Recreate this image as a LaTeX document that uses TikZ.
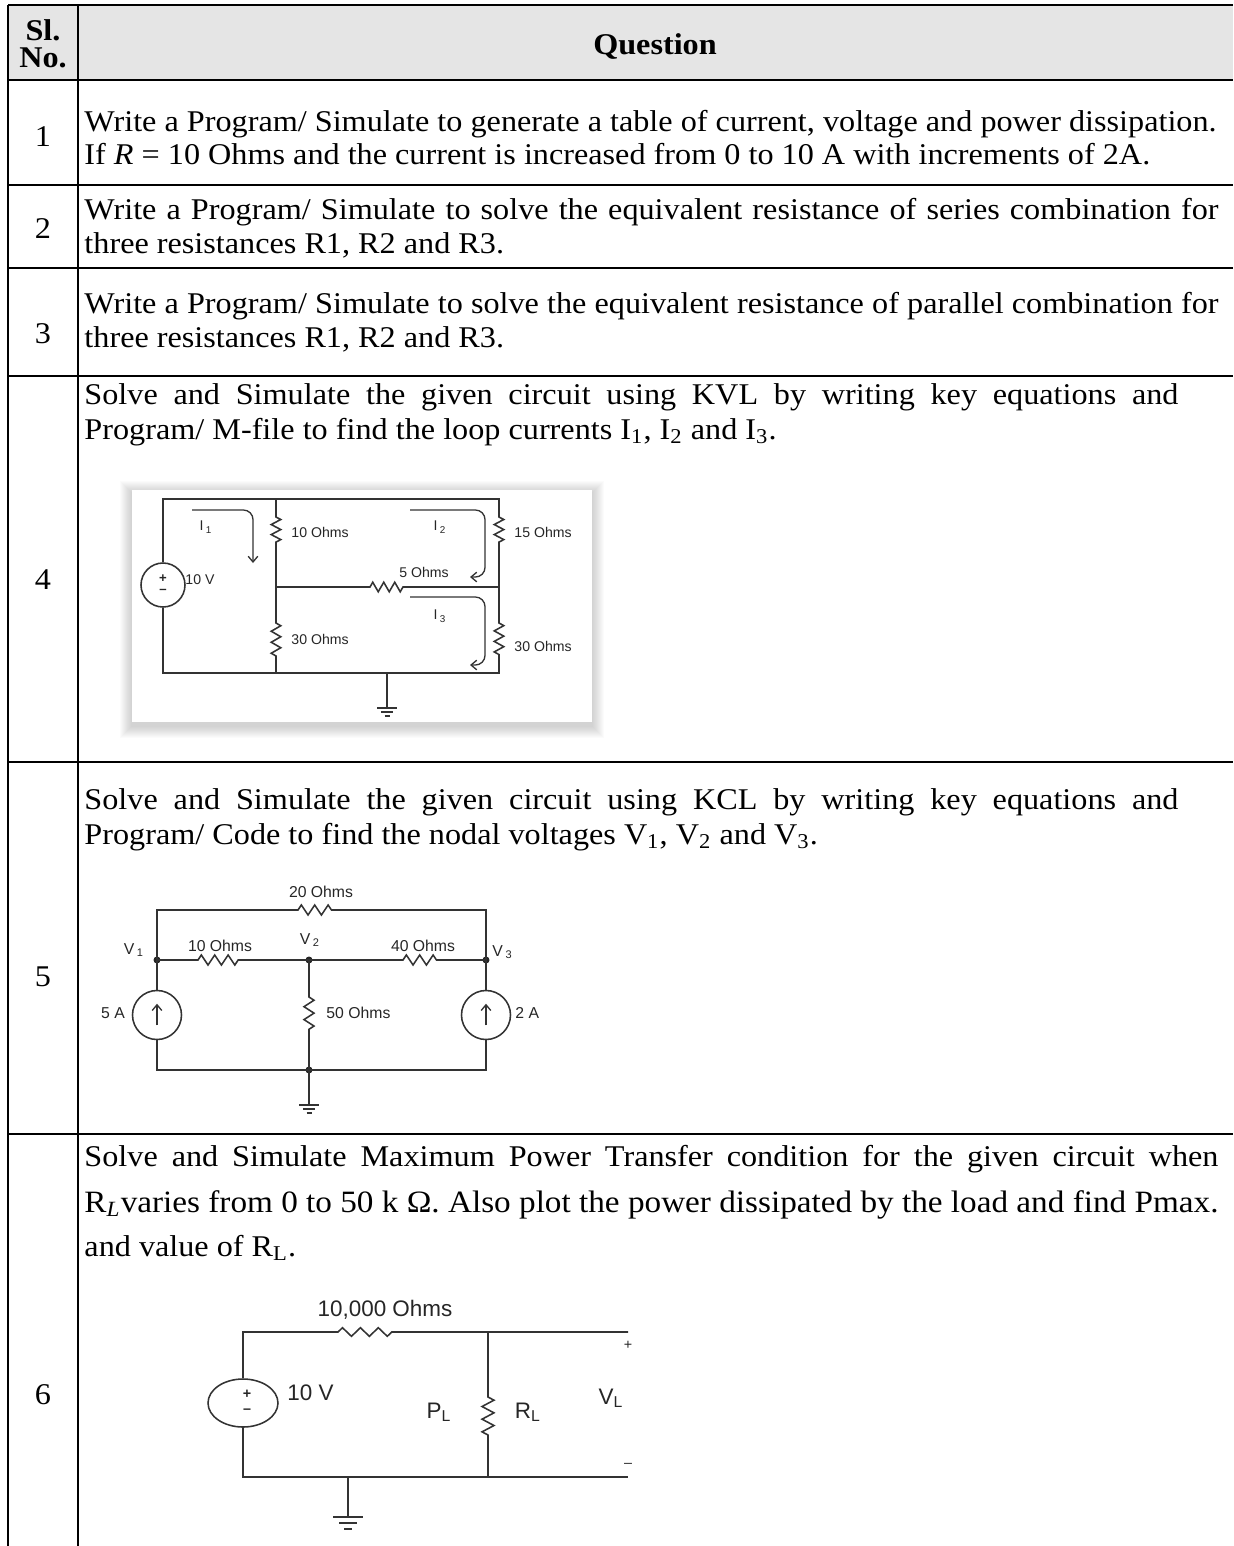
\documentclass[tikz,border=0pt]{standalone}
\usepackage{fontspec}
\setmainfont[FakeStretch=1.07]{Liberation Serif}
\newfontfamily\cktfont{Liberation Sans}
\usepackage{tikz}
\usetikzlibrary{arrows.meta}
\usetikzlibrary{decorations.pathmorphing}
\usetikzlibrary{shapes.geometric}

\newlength\pxu
\setlength\pxu{0.4185pt}

\tikzset{
    gnd/.pic={
        \draw[wire] (-10,0) -- (10,0) (-6,4) -- (6,4) (-2.5,8) -- (2.5,8);
    },
}

\begin{document}
\begin{tikzpicture}[
        x=0.4185pt, y=-0.4185pt,
        tbl/.style={line width=1pt},
        qtext/.style={anchor=base west, inner sep=0pt, font=\fontsize{12.6}{14}\selectfont},
        num/.style={inner sep=0pt, font=\fontsize{12.6}{14}\selectfont},
        wire/.style={draw=black!80, line width=0.65pt},
        res/.style 2 args={decoration={zigzag, segment length=#1, amplitude=#2}},
        src/.style={wire, circle, inner sep=0pt},
        dot/.style={circle, fill=black!85, inner sep=0pt, minimum size=7\pxu},
        cur/.style={wire, line width=0.55pt, -{Straight Barb[length=2.4pt, width=4pt]}},
        lbl/.style={inner sep=0pt, text=black!85, font=\cktfont\fontsize{5.9}{6}\selectfont},
        lblb/.style={lbl, font=\cktfont\fontsize{6.6}{7}\selectfont},
        lblc/.style={lbl, font=\cktfont\fontsize{9.4}{10}\selectfont},
        ]
        \useasboundingbox (0,0) rectangle (1233,1546);

        % table frame
        \fill[black!10] (8,5) rectangle (1233,80);
        \draw[tbl] (8,5) -- (1233,5);
        \foreach \yy in {80,185,268,376,762,1134}
            \draw[tbl] (8,\yy) -- (1233,\yy);
        \draw[tbl] (8,5) -- (8,1546);
        \draw[tbl] (78,5) -- (78,1546);

        % header
        \node[num, font=\bfseries\fontsize{12.6}{14}\selectfont] (sl) at (43,30) {Sl.};
        \node[num, font=\bfseries\fontsize{12.6}{14}\selectfont] (no) at (43,58) {No.};
        \node[num, font=\bfseries\fontsize{12.6}{14}\selectfont] (quest) at (655,46) {Question};

        % row numbers
        \node[num] (n1) at (43,137) {1};
        \node[num] (n2) at (43,229) {2};
        \node[num] (n3) at (43,334) {3};
        \node[num] (n4) at (43,580) {4};
        \node[num] (n5) at (43,977) {5};
        \node[num] (n6) at (43,1395) {6};

        % questions
        \node[qtext] (q1a) at (84,131) {Write a Program/ Simulate to generate a table of current, voltage and power dissipation.};
        \node[qtext] (q1b) at (84,164) {If \textit{R} = 10 Ohms and the current is increased from 0 to 10 A with increments of 2A.};
        \node[qtext] (q2a) at (84,219) {\makebox[1134\pxu][s]{Write a Program/ Simulate to solve the equivalent resistance of series combination for}};
        \node[qtext] (q2b) at (84,253) {three resistances R1, R2 and R3.};
        \node[qtext] (q3a) at (84,313) {\makebox[1134\pxu][s]{Write a Program/ Simulate to solve the equivalent resistance of parallel combination for}};
        \node[qtext] (q3b) at (84,347) {three resistances R1, R2 and R3.};
        \node[qtext] (q4a) at (84,404) {\makebox[1094\pxu][s]{Solve and Simulate the given circuit using KVL by writing key equations and}};
        \node[qtext] (q4b) at (84,439) {Program/ M-file to find the loop currents I\textsubscript{1}, I\textsubscript{2} and I\textsubscript{3}.};
        \node[qtext] (q5a) at (84,809) {\makebox[1094\pxu][s]{Solve and Simulate the given circuit using KCL by writing key equations and}};
        \node[qtext] (q5b) at (84,844) {Program/ Code to find the nodal voltages V\textsubscript{1}, V\textsubscript{2} and V\textsubscript{3}.};
        \node[qtext] (q6a) at (84,1166) {\makebox[1134\pxu][s]{Solve and Simulate Maximum Power Transfer condition for the given circuit when}};
        \node[qtext] (q6b) at (84,1212) {\resizebox{1134\pxu}{!}{R\textsubscript{\textit{L}}varies from 0 to 50 k Ω. Also plot the power dissipated by the load and find Pmax.}};
        \node[qtext] (q6c) at (84,1256) {and value of R\textsubscript{L}.};

        % row 4: picture box with soft shadow
        \foreach \k in {1,...,12}
            \fill[black, opacity=0.016] ({132-\k},{493-\k}) rectangle ({592+\k},{726+\k});
        \fill[white] (132,490) rectangle (592,722);

        % row 4 circuit
        \coordinate (a1) at (163,499);
        \coordinate (a2) at (276,499);
        \coordinate (a3) at (499,499);
        \coordinate (a4) at (163,673);
        \coordinate (a5) at (276,673);
        \coordinate (a6) at (499,673);
        \coordinate (m1) at (276,587);
        \coordinate (m2) at (499,587);
        \coordinate (g4) at (387,708);
        \node[src, minimum size=44\pxu] (src4) at (163,585) {};
        \node[lbl, font=\cktfont\bfseries\fontsize{5.5}{5}\selectfont] (p4) at (163,579) {+};
        \node[lbl, font=\cktfont\bfseries\fontsize{5.5}{5}\selectfont] (s4) at (163,591) {–};
        \draw[wire] (src4.north) -- (a1) -- (a3) -- (499,517)
            decorate[res={4.2pt}{2pt}] {-- (499,547)} -- (m2) -- (499,623)
            decorate[res={4.4pt}{2pt}] {-- (499,658)} -- (a6) -- (a4) -- (src4.south);
        \draw[wire] (a2) -- (276,517) decorate[res={4.2pt}{2pt}] {-- (276,547)} -- (m1)
            -- (276,623) decorate[res={4.6pt}{2pt}] {-- (276,660)} -- (a5);
        \draw[wire] (m1) -- (370,587) decorate[res={4.6pt}{2pt}] {-- (403,587)} -- (m2);
        \draw[wire] (387,673) -- (g4);
        \pic at (g4) {gnd};
        \draw[cur, rounded corners=4pt] (192,510) -| (253,563);
        \draw[cur, rounded corners=4pt] (410,510) -- (485,510) -- (485,577) -- (470,577);
        \draw[cur, rounded corners=4pt] (410,597) -- (485,597) -- (485,665) -- (470,665);
        \node[lbl] (i1) at (206,527) {I\,\textsubscript{1}};
        \node[lbl] (i2) at (440,527) {I\,\textsubscript{2}};
        \node[lbl] (i3) at (440,616) {I\,\textsubscript{3}};
        \node[lbl, anchor=west] (v4) at (185,580) {10 V};
        \node[lbl, anchor=west] (r10) at (291,532) {10 Ohms};
        \node[lbl, anchor=west] (r15) at (514,532) {15 Ohms};
        \node[lbl] (r5) at (424,572) {5 Ohms};
        \node[lbl, anchor=west] (r30l) at (291,639) {30 Ohms};
        \node[lbl, anchor=west] (r30r) at (514,646) {30 Ohms};

        % row 5 circuit
        \coordinate (b1) at (157,910);
        \coordinate (b2) at (486,910);
        \coordinate (b3) at (157,1070);
        \coordinate (b4) at (309,1070);
        \coordinate (b5) at (486,1070);
        \coordinate (g5) at (309,1105);
        \node[dot] (v1) at (157,960) {};
        \node[dot] (v2) at (309,960) {};
        \node[dot] (v3) at (486,960) {};
        \node[dot] (d5) at (b4) {};
        \node[src, minimum size=49\pxu] (isa) at (157,1015) {};
        \node[src, minimum size=49\pxu] (isb) at (486,1015) {};
        \draw[wire] (v1.center) -- (b1) -- (298,910) decorate[res={5.6pt}{2.1pt}] {-- (338,910)} -- (b2) -- (v3.center);
        \draw[wire] (v1.center) -- (198,960) decorate[res={5.6pt}{2.1pt}] {-- (240,960)} -- (v2.center)
            -- (403,960) decorate[res={5.6pt}{2.1pt}] {-- (442,960)} -- (v3.center);
        \draw[wire] (v2.center) -- (309,997) decorate[res={5.4pt}{2.1pt}] {-- (309,1035)} -- (b4) -- (g5);
        \draw[wire] (v1.center) -- (isa.north);
        \draw[wire] (isa.south) -- (b3) -- (b5) -- (isb.south);
        \draw[wire] (isb.north) -- (v3.center);
        \pic at (g5) {gnd};
        \draw[cur, shorten <=15\pxu, shorten >=14\pxu] (isa.south) -- (isa.north);
        \draw[cur, shorten <=15\pxu, shorten >=14\pxu] (isb.south) -- (isb.north);
        \node[lblb] (r20) at (321,892) {20 Ohms};
        \node[lblb] (r10b) at (220,946) {10 Ohms};
        \node[lblb] (r40) at (423,946) {40 Ohms};
        \node[lblb, anchor=west] (r50) at (326,1013) {50 Ohms};
        \node[lblb] (lv1) at (134,950) {V\,\textsubscript{1}};
        \node[lblb] (lv2) at (310,940) {V\,\textsubscript{2}};
        \node[lblb, anchor=west] (lv3) at (492,952) {V\,\textsubscript{3}};
        \node[lblb] (l5a) at (113,1013) {5 A};
        \node[lblb, anchor=west] (l2a) at (515,1013) {2 A};

        % row 6 circuit
        \coordinate (c1) at (243,1332);
        \coordinate (c2) at (488,1332);
        \coordinate (c3) at (628,1332);
        \coordinate (c4) at (243,1477);
        \coordinate (c5) at (488,1477);
        \coordinate (c6) at (628,1477);
        \coordinate (g6a) at (348,1477);
        \coordinate (g6) at (348,1517);
        \node[src, ellipse, minimum width=70\pxu, minimum height=48\pxu] (src6) at (243,1403) {};
        \node[lbl, font=\cktfont\bfseries\fontsize{6}{6}\selectfont] (p6) at (247,1394) {+};
        \node[lbl, font=\cktfont\bfseries\fontsize{6}{6}\selectfont] (s6) at (247,1411) {–};
        \draw[wire] (src6.north) -- (c1) -- (338,1332) decorate[res={7.5pt}{1.8pt}] {-- (392,1332)} -- (c2) -- (c3);
        \draw[wire] (c2) -- (488,1397) decorate[res={5.3pt}{2.5pt}] {-- (488,1435)} -- (c5);
        \draw[wire] (src6.south) -- (c4) -- (c6);
        \draw[wire] (g6a) -- (g6);
        \pic[scale=1.5] at (g6) {gnd};
        \node[lblc] (r10k) at (385,1310) {10,000 Ohms};
        \node[lblc, anchor=west] (v6) at (287,1393) {10 V};
        \node[lblc] (pl) at (439,1412) {P\textsubscript{L}};
        \node[lblc] (rl) at (528,1412) {R\textsubscript{L}};
        \node[lblc] (vl) at (611,1398) {V\textsubscript{L}};
        \node[lblc, font=\cktfont\fontsize{6}{6}\selectfont] (vp) at (628,1345) {+};
        \node[lblc, font=\cktfont\fontsize{6}{6}\selectfont] (vm) at (628,1465) {–};
\end{tikzpicture}
\end{document}
